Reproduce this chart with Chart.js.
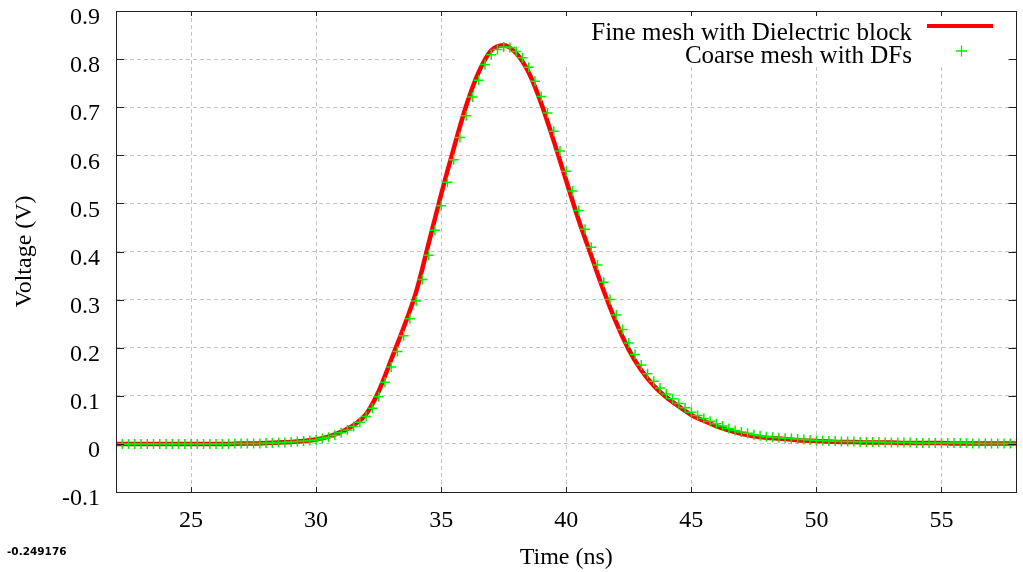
<!DOCTYPE html>
<html>
<head>
<meta charset="utf-8">
<script src="https://cdn.jsdelivr.net/npm/chart.js@4.4.0/dist/chart.umd.min.js"></script>
<style>
  html, body { margin: 0; padding: 0; background: #fff; }
</style>
</head>
<body>
<canvas id="chart" width="1023" height="572"></canvas>
<script>
// tick labels
const xTicks = [25, 30, 35, 40, 45, 50, 55];
const yTicks = [-0.1, 0, 0.1, 0.2, 0.3, 0.4, 0.5, 0.6, 0.7, 0.8, 0.9];

const seriesNames = ['Fine mesh with Dielectric block', 'Coarse mesh with DFs'];
const cornerNote = '-0.249176';

// fine mesh: samples every 0.5 ns from 22 ns
const fineStart = 22, fineStep = 0.5;
const fineVoltage = [
  0.000, 0.000, 0.000, 0.000, 0.000, 0.000, 0.000, 0.000, 0.000, 0.000,
  0.001, 0.001, 0.002, 0.003, 0.004, 0.006, 0.009, 0.015, 0.025, 0.039,
  0.062, 0.109, 0.175, 0.242, 0.316, 0.417, 0.519, 0.614, 0.703, 0.773,
  0.818, 0.829, 0.812, 0.772, 0.708, 0.630, 0.547, 0.465, 0.391, 0.318,
  0.252, 0.196, 0.153, 0.121, 0.097, 0.078, 0.060, 0.048, 0.037, 0.028,
  0.021, 0.016, 0.013, 0.011, 0.009, 0.007, 0.006, 0.005, 0.004, 0.004,
  0.003, 0.003, 0.003, 0.002, 0.002, 0.002, 0.002, 0.001, 0.001, 0.001,
  0.001, 0.001, 0.001
];

// coarse mesh: samples every 0.25 ns from 22 ns
const coarseStart = 22, coarseStep = 0.25;
const coarseVoltage = [
  0.000, 0.000, 0.000, 0.000, 0.000, 0.000, 0.000, 0.000, 0.000, 0.000, // 22 - 24.25
  0.000, 0.000, 0.000, 0.000, 0.000, 0.000, 0.000, 0.000, 0.000, 0.001, // 24.5 - 26.75
  0.001, 0.001, 0.001, 0.001, 0.002, 0.002, 0.003, 0.003, 0.004, 0.005, // 27 - 29.25
  0.006, 0.007, 0.008, 0.011, 0.014, 0.018, 0.023, 0.029, 0.036, 0.045, // 29.5 - 31.75
  0.057, 0.074, 0.098, 0.128, 0.160, 0.192, 0.225, 0.260, 0.297, 0.342, // 32 - 34.25
  0.392, 0.444, 0.495, 0.544, 0.591, 0.637, 0.682, 0.721, 0.756, 0.789, // 34.5 - 36.75
  0.809, 0.820, 0.825, 0.824, 0.816, 0.803, 0.783, 0.754, 0.722, 0.688, // 37 - 39.25
  0.650, 0.609, 0.567, 0.526, 0.485, 0.446, 0.409, 0.372, 0.336, 0.300, // 39.5 - 41.75
  0.268, 0.238, 0.210, 0.186, 0.164, 0.146, 0.130, 0.116, 0.104, 0.094, // 42 - 44.25
  0.084, 0.075, 0.066, 0.059, 0.053, 0.047, 0.042, 0.037, 0.032, 0.028, // 44.5 - 46.75
  0.025, 0.022, 0.019, 0.017, 0.015, 0.014, 0.013, 0.012, 0.011, 0.010, // 47 - 49.25
  0.009, 0.008, 0.007, 0.007, 0.006, 0.006, 0.005, 0.005, 0.005, 0.004, // 49.5 - 51.75
  0.004, 0.004, 0.004, 0.003, 0.003, 0.003, 0.003, 0.003, 0.002, 0.002, // 52 - 54.25
  0.002, 0.002, 0.002, 0.002, 0.002, 0.002, 0.002, 0.001, 0.001, 0.001, // 54.5 - 56.75
  0.001, 0.001, 0.001, 0.001, 0.001                                     // 57 - 58
];

const toPoints = (start, step, vals) => vals.map((v, i) => ({ x: start + i * step, y: v }));

const serif = '"Liberation Serif", "DejaVu Serif", serif';
Chart.defaults.font.family = serif;
Chart.defaults.color = '#000';

const gridOpts = {
  color: '#c4c4c4',
  lineWidth: 1,
  drawTicks: false
};

// gnuplot-like frame: white key box, border, inner tics, key, corner label
const gnuplotFrame = {
  id: 'gnuplotFrame',
  beforeDatasetsDraw(chart) {
    const { ctx, chartArea: a } = chart;
    ctx.save();
    ctx.fillStyle = '#fff';
    ctx.fillRect(455, a.top + 1, a.right - 456, 54);
    ctx.restore();
  },
  afterDatasetsDraw(chart) {
    const { ctx, chartArea: a, scales } = chart;
    ctx.save();
    ctx.strokeStyle = '#222';
    ctx.lineWidth = 1;
    ctx.strokeRect(Math.round(a.left) + 0.5, Math.round(a.top) + 0.5,
      Math.round(a.right - a.left) - 1, Math.round(a.bottom - a.top));
    ctx.beginPath();
    xTicks.forEach(v => {
      const px = Math.round(scales.x.getPixelForValue(v)) + 0.5;
      ctx.moveTo(px, a.bottom); ctx.lineTo(px, a.bottom - 5);
      ctx.moveTo(px, a.top); ctx.lineTo(px, a.top + 5);
    });
    yTicks.forEach(v => {
      const py = Math.round(scales.y.getPixelForValue(v)) + 0.5;
      ctx.moveTo(a.left, py); ctx.lineTo(a.left + 8, py);
      ctx.moveTo(a.right, py); ctx.lineTo(a.right - 8, py);
    });
    ctx.stroke();

    // key
    ctx.font = '25px ' + serif;
    ctx.fillStyle = '#000';
    ctx.textAlign = 'right';
    ctx.textBaseline = 'alphabetic';
    ctx.fillText(seriesNames[0], 912, 40);
    ctx.fillText(seriesNames[1], 912, 63);
    ctx.strokeStyle = '#ff0000';
    ctx.lineWidth = 4;
    ctx.beginPath();
    ctx.moveTo(927, 26); ctx.lineTo(993, 26);
    ctx.stroke();
    ctx.strokeStyle = '#00f000';
    ctx.lineWidth = 1.3;
    ctx.beginPath();
    ctx.moveTo(956, 51); ctx.lineTo(967, 51);
    ctx.moveTo(961.5, 45.5); ctx.lineTo(961.5, 56.5);
    ctx.stroke();

    // corner label
    ctx.font = 'bold 10.5px "DejaVu Sans", sans-serif';
    ctx.textAlign = 'left';
    ctx.fillStyle = '#000';
    ctx.fillText(cornerNote, 7, 555);
    ctx.restore();
  }
};

new Chart(document.getElementById('chart'), {
  type: 'line',
  data: {
    datasets: [
      {
        label: seriesNames[0],
        data: toPoints(fineStart, fineStep, fineVoltage),
        borderColor: '#ff0000',
        backgroundColor: '#ff0000',
        borderWidth: 4.5,
        pointRadius: 0,
        cubicInterpolationMode: 'monotone',
        fill: false,
        order: 1
      },
      {
        label: seriesNames[1],
        data: toPoints(coarseStart, coarseStep, coarseVoltage),
        showLine: false,
        pointStyle: 'cross',
        pointRadius: 5,
        pointBorderWidth: 1.5,
        borderColor: '#00f000',
        backgroundColor: '#00f000',
        order: 0
      }
    ]
  },
  plugins: [gnuplotFrame],
  options: {
    responsive: false,
    devicePixelRatio: 1,
    animation: false,
    layout: { padding: { top: 11, right: 2, left: 0, bottom: 0 } },
    plugins: {
      legend: { display: false },
      tooltip: { enabled: false }
    },
    scales: {
      x: {
        type: 'linear',
        min: 22,
        max: 58,
        afterFit(s) { s.height = 80; s.paddingLeft = 0; s.paddingRight = 0; },
        afterBuildTicks(s) { s.ticks = xTicks.map(v => ({ value: v })); },
        grid: gridOpts,
        border: { display: false, dash: [4, 3] },
        ticks: { font: { size: 24 }, padding: 14, maxRotation: 0, callback: v => String(v) },
        title: { display: true, text: 'Time (ns)', font: { size: 24 }, padding: { top: 3, bottom: 0 } }
      },
      y: {
        type: 'linear',
        min: -0.1,
        max: 0.9,
        afterFit(s) { s.width = 116; s.paddingTop = 0; s.paddingBottom = 0; },
        afterBuildTicks(s) { s.ticks = yTicks.map(v => ({ value: v })); },
        grid: gridOpts,
        border: { display: false, dash: [4, 3] },
        ticks: {
          font: { size: 24 },
          padding: 16,
          labelOffset: 7,
          callback: v => String(Math.round(v * 10) / 10)
        },
        title: { display: true, text: 'Voltage (V)', font: { size: 24 }, padding: { top: 10, bottom: 0 } }
      }
    }
  }
});
</script>
</body>
</html>
